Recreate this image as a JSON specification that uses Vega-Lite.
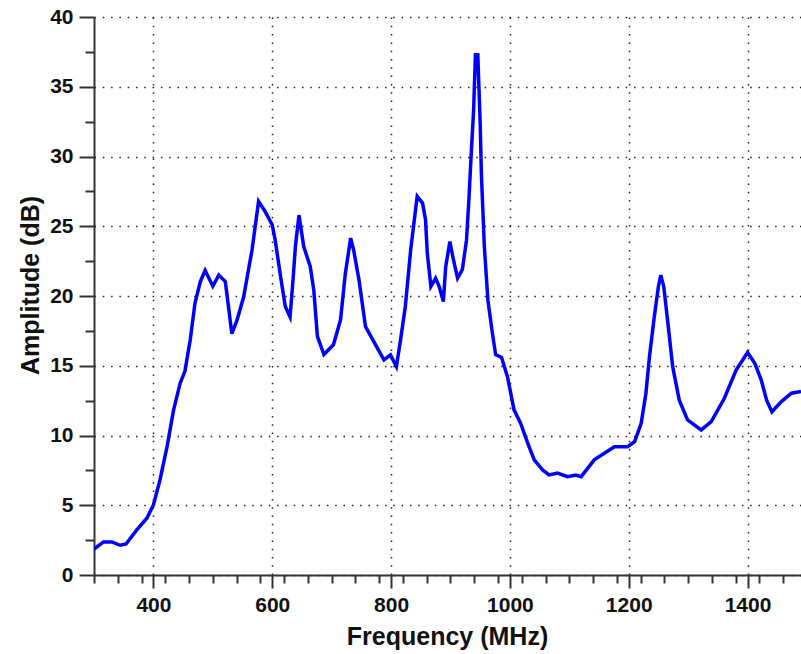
{
  "$schema": "https://vega.github.io/schema/vega-lite/v6.json",
  "width": 707,
  "height": 558,
  "autosize": {"type": "none"},
  "padding": {"left": 94, "top": 17, "right": 0, "bottom": 79},
  "background": "white",
  "config": {
    "view": {"stroke": null},
    "axis": {
      "labelFont": "Liberation Sans",
      "labelFontWeight": "bold",
      "labelFontSize": 21,
      "labelColor": "#111",
      "titleFont": "Liberation Sans",
      "titleFontWeight": "bold",
      "titleFontSize": 25,
      "titleColor": "#111",
      "domainColor": "#333",
      "domainWidth": 2,
      "tickColor": "#333",
      "tickWidth": 2,
      "gridColor": "#222",
      "gridWidth": 1.5,
      "gridDash": [1.5, 6.8],
      "gridOpacity": 1
    }
  },
  "data": {
    "values": [
      {"f": 300, "a": 1.86}, {"f": 316, "a": 2.37}, {"f": 330, "a": 2.37}, {"f": 344, "a": 2.13},
      {"f": 354, "a": 2.22}, {"f": 372, "a": 3.23}, {"f": 389, "a": 4.07}, {"f": 400, "a": 5.02},
      {"f": 411, "a": 6.8}, {"f": 423, "a": 9.2}, {"f": 434, "a": 11.84}, {"f": 445, "a": 13.75},
      {"f": 453, "a": 14.6}, {"f": 462, "a": 16.86}, {"f": 470, "a": 19.5}, {"f": 479, "a": 21.04},
      {"f": 487, "a": 21.83}, {"f": 500, "a": 20.7}, {"f": 510, "a": 21.5}, {"f": 521, "a": 21.04},
      {"f": 525, "a": 19.7}, {"f": 532, "a": 17.3}, {"f": 541, "a": 18.3}, {"f": 552, "a": 19.96},
      {"f": 566, "a": 23.3}, {"f": 577, "a": 26.78}, {"f": 588, "a": 26.06}, {"f": 600, "a": 25.1},
      {"f": 605, "a": 24.0}, {"f": 614, "a": 21.4}, {"f": 622, "a": 19.25}, {"f": 630, "a": 18.5},
      {"f": 635, "a": 21.16}, {"f": 639, "a": 23.55}, {"f": 645, "a": 25.8}, {"f": 653, "a": 23.55},
      {"f": 664, "a": 22.1}, {"f": 670, "a": 20.4}, {"f": 676, "a": 17.1}, {"f": 687, "a": 15.8},
      {"f": 703, "a": 16.5}, {"f": 715, "a": 18.3}, {"f": 723, "a": 21.6}, {"f": 732, "a": 24.15},
      {"f": 737, "a": 23.3}, {"f": 746, "a": 21.16}, {"f": 757, "a": 17.8}, {"f": 777, "a": 16.26},
      {"f": 788, "a": 15.42}, {"f": 799, "a": 15.78}, {"f": 809, "a": 14.94}, {"f": 816, "a": 16.86},
      {"f": 824, "a": 19.25}, {"f": 833, "a": 23.3}, {"f": 844, "a": 27.14}, {"f": 853, "a": 26.66},
      {"f": 858, "a": 25.47}, {"f": 861, "a": 23.08}, {"f": 867, "a": 20.68}, {"f": 875, "a": 21.28},
      {"f": 881, "a": 20.68}, {"f": 888, "a": 19.6}, {"f": 892, "a": 22.1}, {"f": 899, "a": 23.9},
      {"f": 905, "a": 22.6}, {"f": 912, "a": 21.28}, {"f": 920, "a": 21.9}, {"f": 927, "a": 24.0},
      {"f": 931, "a": 26.9}, {"f": 935, "a": 30.25}, {"f": 939, "a": 33.36}, {"f": 942, "a": 37.3},
      {"f": 946, "a": 37.3}, {"f": 950, "a": 32.4}, {"f": 952, "a": 28.8}, {"f": 957, "a": 23.55},
      {"f": 963, "a": 19.7}, {"f": 970, "a": 17.5}, {"f": 976, "a": 15.8}, {"f": 986, "a": 15.6},
      {"f": 996, "a": 14.2}, {"f": 1007, "a": 11.84}, {"f": 1018, "a": 10.88}, {"f": 1030, "a": 9.45},
      {"f": 1041, "a": 8.25}, {"f": 1055, "a": 7.53}, {"f": 1066, "a": 7.17}, {"f": 1080, "a": 7.3},
      {"f": 1097, "a": 7.05}, {"f": 1111, "a": 7.17}, {"f": 1120, "a": 7.05}, {"f": 1142, "a": 8.25},
      {"f": 1159, "a": 8.73}, {"f": 1176, "a": 9.2}, {"f": 1198, "a": 9.2}, {"f": 1210, "a": 9.56},
      {"f": 1221, "a": 10.88}, {"f": 1229, "a": 13.03}, {"f": 1235, "a": 15.66}, {"f": 1243, "a": 18.5},
      {"f": 1250, "a": 20.68}, {"f": 1254, "a": 21.5}, {"f": 1259, "a": 20.68}, {"f": 1266, "a": 18.05},
      {"f": 1274, "a": 14.94}, {"f": 1285, "a": 12.55}, {"f": 1299, "a": 11.12}, {"f": 1322, "a": 10.4},
      {"f": 1339, "a": 11.0}, {"f": 1361, "a": 12.67}, {"f": 1381, "a": 14.7}, {"f": 1400, "a": 15.95},
      {"f": 1412, "a": 15.19}, {"f": 1423, "a": 13.99}, {"f": 1432, "a": 12.55}, {"f": 1441, "a": 11.7},
      {"f": 1457, "a": 12.43}, {"f": 1474, "a": 13.03}, {"f": 1490, "a": 13.15}
    ]
  },
  "layer": [
    {
      "mark": {"type": "line", "opacity": 0, "clip": true},
      "encoding": {
        "x": {
          "field": "f", "type": "quantitative",
          "scale": {"domain": [300, 1490], "nice": false, "zero": false},
          "axis": {
            "orient": "bottom", "values": [300, 340, 380, 420, 460, 500, 540, 580, 620, 660, 700, 740, 780, 820, 860, 900, 940, 980, 1020, 1060, 1100, 1140, 1180, 1220, 1260, 1300, 1340, 1380, 1420, 1460],
            "labels": false, "grid": false, "domain": false, "tickSize": 8, "title": null
          }
        },
        "y": {
          "field": "a", "type": "quantitative",
          "scale": {"domain": [0, 40], "nice": false},
          "axis": {
            "orient": "left", "values": [2.5, 7.5, 12.5, 17.5, 22.5, 27.5, 32.5, 37.5],
            "labels": false, "grid": false, "domain": false, "tickSize": 9, "title": null
          }
        }
      }
    },
    {
      "mark": {"type": "line", "color": "#0000FF", "strokeWidth": 3.5, "clip": true},
      "encoding": {
        "x": {
          "field": "f", "type": "quantitative",
          "scale": {"domain": [300, 1490], "nice": false, "zero": false},
          "axis": {
            "orient": "bottom", "values": [400, 600, 800, 1000, 1200, 1400], "format": "d",
            "grid": true, "tickSize": 13, "labelPadding": 6, "title": "Frequency (MHz)",
            "titleX": 353, "titleY": 61, "titleBaseline": "middle", "titleAnchor": "middle"
          }
        },
        "y": {
          "field": "a", "type": "quantitative",
          "scale": {"domain": [0, 40], "nice": false},
          "axis": {
            "orient": "left", "values": [0, 5, 10, 15, 20, 25, 30, 35, 40], "format": "d",
            "grid": true, "tickSize": 15, "labelPadding": 6, "title": "Amplitude (dB)",
            "titleX": -64, "titleY": 268, "titleBaseline": "middle", "titleAngle": -90, "titleAnchor": "middle"
          }
        }
      }
    }
  ],
  "resolve": {"axis": {"x": "independent", "y": "independent"}}
}
